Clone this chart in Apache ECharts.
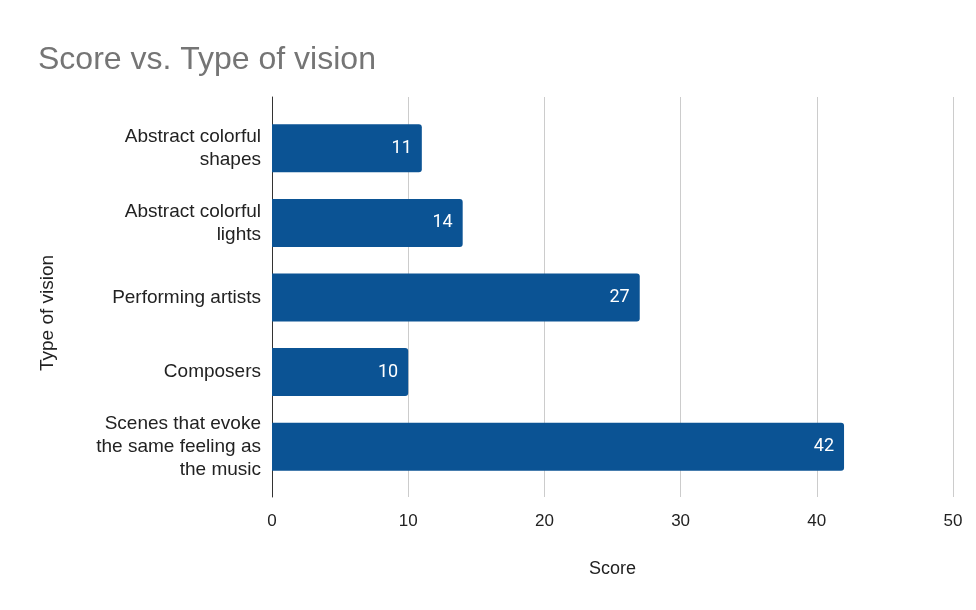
<!DOCTYPE html>
<html>
<head>
<meta charset="utf-8">
<script src="https://cdn.jsdelivr.net/npm/echarts@6/dist/echarts.min.js"></script>
<style>
  html, body { margin: 0; padding: 0; background: #fff; }
  #chart { width: 976px; height: 610px; }
</style>
</head>
<body>
<div id="chart"></div>
<script>
// Categories, top to bottom
const categories = [
  'Abstract colorful\nshapes',
  'Abstract colorful\nlights',
  'Performing artists',
  'Composers',
  'Scenes that evoke\nthe same feeling as\nthe music'
];
// Score per category
const scores = [11, 14, 27, 10, 42];
// Score axis range and step
const scoreMin = 0;
const scoreMax = 50;
const scoreStep = 10;

const labelFont = 'Roboto, "Liberation Sans", Arial, sans-serif';
const axisFont = '"Liberation Sans", Arial, sans-serif';
const barColor = '#0b5394';

const chart = echarts.init(document.getElementById('chart'), null, { renderer: 'canvas' });

chart.setOption({
  animation: false,
  backgroundColor: '#ffffff',
  title: {
    text: 'Score vs. Type of vision',
    left: 33,
    top: 39,
    textStyle: {
      fontFamily: axisFont,
      fontSize: 32,
      fontWeight: 'normal',
      color: '#757575'
    }
  },
  // grid 0 carries the gridlines, tick labels and the vertical baseline;
  // grid 1 carries the bars and category labels
  grid: [
    { left: 272, right: 23, top: 97, bottom: 113, containLabel: false },
    { left: 272, right: 23, top: 111, bottom: 126, containLabel: false }
  ],
  xAxis: [
    {
      gridIndex: 0,
      type: 'value',
      min: scoreMin,
      max: scoreMax,
      interval: scoreStep,
      name: 'Score',
      nameLocation: 'middle',
      nameGap: 63,
      nameTextStyle: { fontFamily: axisFont, fontSize: 18, color: '#222222' },
      axisLine: { show: false },
      axisTick: { show: false },
      axisLabel: { fontFamily: axisFont, fontSize: 17, color: '#222222', margin: 16 },
      splitLine: { show: true, lineStyle: { color: '#cccccc', width: 1 } }
    },
    {
      gridIndex: 1,
      type: 'value',
      min: scoreMin,
      max: scoreMax,
      interval: scoreStep,
      show: false
    }
  ],
  yAxis: [
    {
      gridIndex: 0,
      type: 'value',
      min: 0,
      max: 1,
      axisLine: { show: true, onZero: false, lineStyle: { color: '#333333', width: 1 } },
      axisTick: { show: false },
      axisLabel: { show: false },
      splitLine: { show: false }
    },
    {
      gridIndex: 1,
      type: 'category',
      data: categories,
      inverse: true,
      axisLine: { show: false },
      axisTick: { show: false },
      splitLine: { show: false },
      axisLabel: {
        fontFamily: axisFont,
        fontSize: 19,
        color: '#222222',
        lineHeight: 23,
        align: 'right',
        margin: 11
      }
    }
  ],
  graphic: [
    {
      type: 'text',
      x: 48,
      y: 313,
      rotation: Math.PI / 2,
      style: {
        text: 'Type of vision',
        fontFamily: axisFont,
        fontSize: 19,
        fill: '#222222',
        textAlign: 'center',
        textVerticalAlign: 'middle'
      }
    }
  ],
  series: [
    {
      type: 'bar',
      xAxisIndex: 1,
      yAxisIndex: 1,
      data: scores,
      barWidth: 48,
      itemStyle: { color: barColor, borderRadius: [0, 3, 3, 0] },
      label: {
        show: true,
        position: 'insideRight',
        distance: 10,
        color: '#ffffff',
        fontFamily: labelFont,
        fontSize: 18
      }
    }
  ]
});
</script>
</body>
</html>
